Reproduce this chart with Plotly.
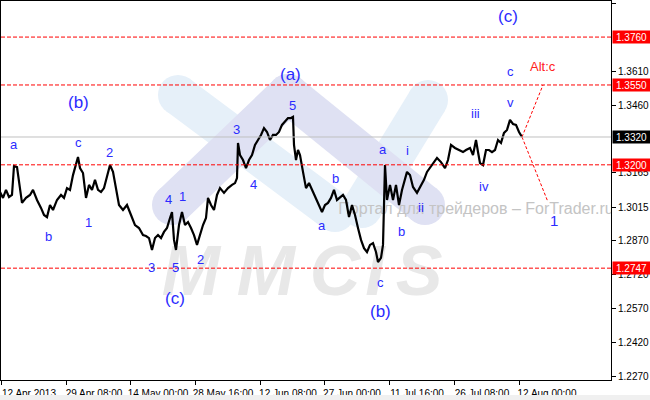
import plotly.graph_objects as go

# H4 chart, x = bar position on the chart, y = price
bars = [0, 3, 6, 9, 12, 14, 17, 19, 22, 26, 30, 33, 37, 41, 44, 47, 50, 53, 57, 61,
        64, 67, 70, 73, 76, 78, 80, 83, 86, 89, 92, 95, 98, 101, 104, 107, 110, 113, 116, 119,
        123, 127, 131, 135, 139, 143, 146, 149, 152, 155, 158, 161, 164, 167, 170, 172, 174, 176, 179, 182,
        185, 188, 191, 194, 197, 200, 203, 206, 208, 211, 214, 217, 220, 224, 228, 232, 235, 237, 238, 240,
        243, 246, 249, 252, 255, 258, 261, 264, 267, 270, 273, 276, 279, 282, 285, 288, 291, 293, 294, 296,
        298, 300, 303, 306, 309, 312, 315, 318, 322, 325, 328, 331, 334, 337, 340, 343, 346, 349, 352, 355,
        358, 361, 364, 367, 370, 373, 376, 378, 381, 383, 385, 387, 390, 393, 396, 399, 402, 405, 407, 410,
        413, 417, 421, 424, 427, 430, 433, 437, 441, 445, 448, 451, 455, 459, 463, 466, 470, 473, 476, 478,
        480, 483, 486, 489, 492, 495, 498, 501, 504, 507, 510, 513, 516, 519, 522]
close = [1.3081, 1.3055, 1.3090, 1.3059, 1.3068, 1.3195, 1.3190, 1.3134, 1.3033, 1.3055,
         1.3068, 1.3090, 1.3046, 1.3011, 1.2980, 1.2971, 1.3024, 1.3002, 1.3046, 1.3068,
         1.3055, 1.3098, 1.3090, 1.3155, 1.3199, 1.3234, 1.3186, 1.3164, 1.3055, 1.3112,
         1.3090, 1.3134, 1.3090, 1.3081, 1.3098, 1.3155, 1.3199, 1.3169, 1.3090, 1.3024,
         1.3002, 1.3024, 1.2980, 1.2936, 1.2923, 1.2892, 1.2888, 1.2879, 1.2827, 1.2879,
         1.2892, 1.2879, 1.2906, 1.2923, 1.2967, 1.2993, 1.2871, 1.2827, 1.2936, 1.2993,
         1.2936, 1.2949, 1.2923, 1.2892, 1.2849, 1.2892, 1.2936, 1.2967, 1.3055, 1.3024,
         1.3002, 1.3068, 1.3098, 1.3077, 1.3098, 1.3112, 1.3120, 1.3142, 1.3296, 1.3243,
         1.3221, 1.3186, 1.3221, 1.3243, 1.3287, 1.3309, 1.3331, 1.3361, 1.3344, 1.3309,
         1.3331, 1.3331, 1.3344, 1.3375, 1.3388, 1.3405, 1.3405, 1.3410, 1.3287, 1.3221,
         1.3265, 1.3243, 1.3169, 1.3098, 1.3120, 1.3090, 1.3059, 1.3033, 1.2993, 1.3024,
         1.3033, 1.3055, 1.3090, 1.3046, 1.3055, 1.3068, 1.3046, 1.2971, 1.3024, 1.2980,
         1.2923, 1.2871, 1.2835, 1.2818, 1.2849, 1.2857, 1.2818, 1.2774, 1.2792, 1.2849,
         1.3199, 1.3046, 1.3112, 1.3046, 1.3112, 1.3024, 1.3090, 1.3134, 1.3169, 1.3155,
         1.3103, 1.3077, 1.3112, 1.3134, 1.3169, 1.3186, 1.3208, 1.3230, 1.3212, 1.3186,
         1.3221, 1.3287, 1.3274, 1.3265, 1.3256, 1.3265, 1.3274, 1.3243, 1.3309, 1.3256,
         1.3208, 1.3199, 1.3265, 1.3265, 1.3256, 1.3265, 1.3309, 1.3296, 1.3340, 1.3353,
         1.3397, 1.3379, 1.3375, 1.3344, 1.3322]

tick_bars = [1, 66, 130, 195, 260, 324, 389, 454, 519]
tick_text = ["12 Apr 2013", "29 Apr 08:00", "14 May 00:00", "28 May 16:00", "12 Jun 08:00",
             "27 Jun 00:00", "11 Jul 16:00", "26 Jul 08:00", "12 Aug 00:00"]
price_ticks = [1.3905, 1.3610, 1.3460, 1.3165, 1.3015, 1.2870, 1.2720, 1.2570, 1.2420, 1.2270]

levels = [1.3760, 1.3550, 1.3200, 1.2747]
current_price = 1.3322

# forecast paths from the last bar
alt_x = [522, 543]
alt_y = [1.3322, 1.3550]
main_x = [522, 548]
main_y = [1.3322, 1.3037]

# wave marks: text, bar, price
wave_small = [("a", 14, 1.3287), ("c", 78, 1.3300), ("2", 109, 1.3252), ("b", 48, 1.2884),
              ("1", 88, 1.2949), ("4", 168, 1.3050), ("1", 182, 1.3063), ("3", 151, 1.2748),
              ("5", 175, 1.2748), ("2", 200, 1.2787), ("3", 236, 1.3357), ("4", 253, 1.3112),
              ("5", 292, 1.3462), ("a", 322, 1.2932), ("b", 335, 1.3142), ("c", 380, 1.2686),
              ("a", 383, 1.3269), ("i", 407, 1.3261), ("ii", 421, 1.3011), ("b", 401, 1.2906),
              ("iii", 475, 1.3427), ("iv", 484, 1.3103), ("v", 510, 1.3475), ("c", 510, 1.3611)]
wave_big = [("(b)", 78, 1.3475), ("(c)", 175, 1.2616), ("(a)", 290, 1.3594),
            ("(b)", 380, 1.2559), ("(c)", 508, 1.3848)]

BLUE = "#2b2bff"
RED = "#ff0000"
FONT = "Liberation Sans, Arial, sans-serif"

W, H = 650, 400
ML, MR, MT, MB = 1, 39, 1, 20
PW, PH = W - ML - MR, H - MT - MB

fig = go.Figure()


def to_paper(px, py):
    return (px - ML) / PW, 1 - (py - MT) / PH


def band(p0, p1, width, color):
    # thick stroke with round ends for the logo watermark
    x0, y0 = to_paper(*p0)
    x1, y1 = to_paper(*p1)
    fig.add_shape(type="line", xref="paper", yref="paper", x0=x0, y0=y0, x1=x1, y1=y1,
                  line=dict(color=color, width=width), layer="below")
    r = width / 2
    for cx, cy in (p0, p1):
        a, b = to_paper(cx - r, cy + r)
        c, d = to_paper(cx + r, cy - r)
        fig.add_shape(type="circle", xref="paper", yref="paper", x0=a, y0=b, x1=c, y1=d,
                      fillcolor=color, line=dict(width=0), layer="below")


LAV = "#dfe1f3"
LBL = "#e6f0f9"
band((178, 95), (335, 212), 40, LBL)
band((362, 208), (428, 100), 40, LBL)
band((172, 205), (288, 94), 40, LAV)
band((288, 94), (425, 205), 40, LAV)

# watermark text behind price
fig.add_trace(go.Scatter(
    x=[191, 266, 335, 375, 419], y=[1.2708] * 5, mode="text",
    text=["M", "M", "C", "I", "S"],
    textfont=dict(family=FONT, size=70, color="#e8e8e8", weight="bold", style="italic"),
    hoverinfo="skip", showlegend=False))
fig.add_trace(go.Scatter(
    x=[476], y=[1.3002], mode="text", text=["Портал для трейдеров – ForTrader.ru"],
    textfont=dict(family=FONT, size=16, color="#c4c4c4"),
    hoverinfo="skip", showlegend=False))

for lv in levels:
    fig.add_hline(y=lv, line=dict(color=RED, width=1, dash="4px,2px"))
fig.add_hline(y=current_price, line=dict(color="#c0c0c0", width=1))

fig.add_trace(go.Scatter(x=bars, y=close, mode="lines",
                         line=dict(color="black", width=2.2), showlegend=False))
fig.add_trace(go.Scatter(x=alt_x, y=alt_y, mode="lines",
                         line=dict(color=RED, width=1, dash="3px,2px"), showlegend=False))
fig.add_trace(go.Scatter(x=main_x, y=main_y, mode="lines",
                         line=dict(color=RED, width=1, dash="3px,2px"), showlegend=False))

for t, x, y in wave_small:
    fig.add_annotation(x=x, y=y, text=t, showarrow=False,
                       font=dict(family=FONT, size=13, color=BLUE))
for t, x, y in wave_big:
    fig.add_annotation(x=x, y=y, text=t, showarrow=False,
                       font=dict(family=FONT, size=17, color=BLUE))
fig.add_annotation(x=543, y=1.3629, text="Alt:c", showarrow=False,
                   font=dict(family=FONT, size=13, color="#ff2020"))
fig.add_annotation(x=554, y=1.2954, text="1", showarrow=False,
                   font=dict(family=FONT, size=15, color=BLUE))

# price boxes on the axis
for lv in levels + [current_price]:
    fig.add_annotation(x=1, xref="paper", xanchor="left", xshift=1, y=lv, yref="y",
                       text=f"{lv:.4f}" if lv != current_price else "1.3320",
                       showarrow=False, bgcolor=RED if lv != current_price else "black",
                       width=37, height=12, borderpad=0,
                       font=dict(family=FONT, size=10, color="white"))

# light strip below the chart
fig.add_shape(type="rect", xref="paper", yref="paper", x0=-0.01, x1=1.1,
              y0=-0.06, y1=to_paper(0, 395)[1], fillcolor="#f0f0f0", line=dict(width=0))

fig.update_layout(
    width=W, height=H,
    margin=dict(l=ML, r=MR, t=MT, b=MB),
    plot_bgcolor="white", paper_bgcolor="white",
    font=dict(family=FONT, size=10, color="black"),
    showlegend=False,
)
fig.update_xaxes(range=[ML, ML + PW], tickvals=tick_bars, ticktext=tick_text,
                 showline=True, mirror=True, linecolor="black", linewidth=1,
                 ticks="outside", ticklen=4, tickcolor="black", ticklabelshift=28,
                 showgrid=False, zeroline=False, tickfont=dict(size=10))
fig.update_yaxes(range=[1.22568, 1.39181], side="right", tickvals=price_ticks,
                 tickformat=".4f", showline=True, mirror=True, linecolor="black", linewidth=1,
                 ticks="outside", ticklen=4, tickcolor="black",
                 showgrid=False, zeroline=False, tickfont=dict(size=10))

# the page body has a default 8px margin; remove it so the chart sits at the corner
fig.write_html("out.html", config={"displayModeBar": False},
               post_script="document.body.style.margin='0';")
